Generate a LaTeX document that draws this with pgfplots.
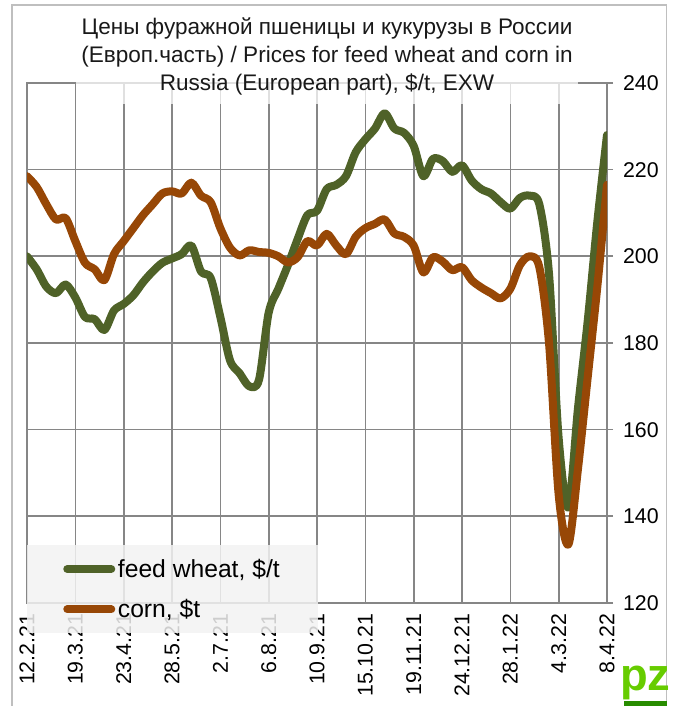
\documentclass[border=0pt]{standalone}
\usepackage{fontspec}
\setmainfont{Liberation Sans}
\usepackage{pgfplots}
\pgfplotsset{compat=1.18}
\definecolor{wheatc}{RGB}{79,98,40}
\definecolor{cornc}{RGB}{151,71,6}
\definecolor{gridc}{RGB}{134,134,134}
\definecolor{logoc}{RGB}{102,204,0}
\definecolor{logod}{RGB}{40,140,0}
\pgfplotstableread{
w v
0 200
1 197
2 193
3 191.5
4 193.5
5 190.5
6 186
7 185.5
8 183
9 187.5
10 189
11 191
12 194
13 196.5
14 198.5
15 199.5
16 200.5
17 202.5
18 196.5
19 195
20 186
21 176
22 173
23 170
24 171.5
25 187
26 192.5
27 198
28 204
29 209.5
30 210.5
31 215.5
32 216.5
33 218.5
34 224
35 227
36 229.5
37 233
38 229.5
39 228.5
40 225.5
41 218.5
42 222.5
43 222
44 219.5
45 221
46 217.5
47 215.5
48 214.5
49 212.5
50 211
51 213.5
52 214
53 212
54 196
55 158
56 142
57 165
58 185
59 208
60 228
}\wheat
\pgfplotstableread{
w v
0 218.5
1 216
2 212
3 208.5
4 208.8
5 203.5
6 198.5
7 197
8 194.5
9 200.5
10 203.5
11 206.5
12 209.5
13 212
14 214.5
15 215
16 214.5
17 217
18 214
19 212.5
20 206.5
21 202
22 200.2
23 201.4
24 201
25 200.8
26 200
27 198.6
28 199.8
29 203.5
30 202.5
31 205.2
32 202.5
33 200.5
34 204.5
35 206.5
36 207.5
37 208.5
38 205.3
39 204.5
40 202.5
41 196.3
42 199.8
43 198.8
44 196.8
45 197.5
46 194.5
47 192.8
48 191.5
49 190.3
50 192.5
51 198
52 200
53 197.5
54 180
55 145
56 133.5
57 151
58 172
59 193
60 216.5
}\corn
\begin{document}
\begin{tikzpicture}
\path[use as bounding box] (0,0) rectangle (507pt,529.5pt);
\draw[black!25, line width=1pt] (9pt,-2pt) -- (9pt,525.75pt) -- (500pt,525.75pt) -- (500pt,-2pt);
\begin{axis}[
 at={(20.25pt,77.25pt)}, anchor=south west,
 scale only axis, width=435pt, height=390pt,
 xmin=0, xmax=60, ymin=120, ymax=240,
 xtick={0,5,...,60},
 xticklabels={12.2.21,19.3.21,23.4.21,28.5.21,2.7.21,6.8.21,10.9.21,15.10.21,19.11.21,24.12.21,28.1.22,4.3.22,8.4.22},
 x tick label style={rotate=90, anchor=east, font=\fontsize{16}{16}\selectfont},
 ytick={120,140,...,240},
 ytick pos=right, yticklabel pos=right,
 y tick label style={font=\fontsize{16}{16}\selectfont, xshift=4pt},
 tick align=outside,
 major tick length=4.5pt,
 xtick style={draw=none},
 ytick style={gridc, line width=1.25pt},
 grid=major, grid style={gridc, line width=1.25pt},
 axis line style={gridc, line width=1.25pt},
 /pgf/number format/assume math mode=true,
 legend style={at={(0,0.1115)}, anchor=north west, fill=black!5, fill opacity=0.85, text opacity=1, draw=none,
   font=\fontsize{18.5}{22}\selectfont, inner xsep=27pt, inner ysep=8.25pt, row sep=11pt,
   cells={anchor=west}},
 legend image code/.code={\draw[#1, line width=6pt, line cap=round] (0pt,0pt) -- (33pt,0pt);},
]
\addplot[wheatc, line width=6pt, smooth, tension=0.5, line join=round, line cap=round] table[x=w, y=v] {\wheat};
\addlegendentry{feed wheat, \$/t}
\addplot[cornc, line width=6pt, smooth, tension=0.5, line join=round, line cap=round] table[x=w, y=v] {\corn};
\addlegendentry{corn, \$t}
\end{axis}
\node[fill=white, fill opacity=0.75, text opacity=1, minimum width=377pt, minimum height=72pt, align=center,
  font=\fontsize{16.9}{21}\selectfont, text=black!90] at (245.25pt,487.5pt)
  {Цены фуражной пшеницы и кукурузы в России\\(Европ.часть) / Prices for feed wheat and corn in\\Russia (European part), \$/t, EXW};
\node[text=logoc, font=\fontsize{34}{34}\selectfont\bfseries, inner sep=0pt] at (484pt,17pt) {pz};
\fill[logod] (468pt,0pt) rectangle (500pt,4pt);
\end{tikzpicture}
\end{document}
